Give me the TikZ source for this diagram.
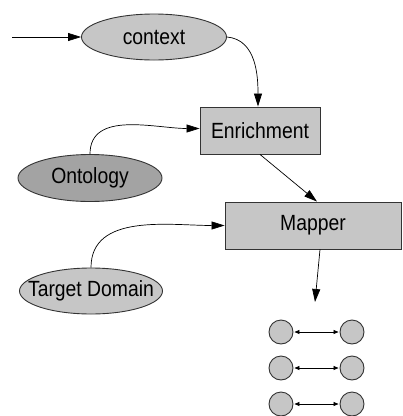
\documentclass[tikz,border=0pt]{standalone}
\usepackage{fontspec}
\setmainfont{Liberation Sans}[FakeStretch=0.88]
\usetikzlibrary{shapes.geometric,arrows.meta}
\definecolor{ltgray}{RGB}{198,198,198}
\definecolor{dkgray}{RGB}{163,163,163}
\begin{document}
\begin{tikzpicture}[x=1pt,y=-1pt,
  lbl/.style={font=\fontsize{22}{24}\selectfont},
  ell/.style={ellipse, draw=black!80, line width=0.9pt, fill=ltgray, minimum width=145pt, minimum height=46pt, inner xsep=-20pt, inner ysep=0pt, lbl},
  box/.style={rectangle, draw=black!80, line width=0.9pt, fill=ltgray, lbl},
  arr/.style={-{Triangle[length=13pt,width=8pt]}, line width=0.7pt},
  dot/.style={circle, draw=black!80, line width=0.9pt, fill=ltgray, minimum size=24pt, inner sep=0pt},
  darr/.style={{Triangle[length=5pt,width=4pt]}-{Triangle[length=5pt,width=4pt]}, line width=0.7pt, shorten <=1pt, shorten >=1pt}
]
\useasboundingbox (0,0) rectangle (403,416);
\node[ell] (context) at (154,37) {context};
\node[box, minimum width=120pt, minimum height=47pt] (enrich) at (260,130.5) {Enrichment};
\node[ell, fill=dkgray, minimum width=144pt, minimum height=47pt] (onto) at (90,178) {Ontology};
\node[box, minimum width=176pt, minimum height=47pt] (mapper) at (313,225.5) {Mapper};
\node[ell, minimum width=143pt] (target) at (91,291) {Target Domain};
\coordinate (in) at (12,37);
\coordinate (out) at (315,302);
\draw[arr] (in) -- (context.west);
\draw[arr] (context.east) to[out=-5,in=90] ([xshift=-2pt]enrich.north);
\draw[arr] (onto.north) to[out=90,in=180] ([yshift=2pt]enrich.west);
\draw[arr] (enrich.south) -- ([xshift=4pt]mapper.north);
\draw[arr] (target.north) to[out=90,in=180] (mapper.west);
\draw[arr] ([xshift=7pt]mapper.south) -- (out);
\foreach \i/\y in {1/332,2/368,3/404}{
  \node[dot] (l\i) at (281,\y) {};
  \node[dot] (r\i) at (352,\y) {};
  \draw[darr] (l\i) -- (r\i);
}
\end{tikzpicture}
\end{document}
